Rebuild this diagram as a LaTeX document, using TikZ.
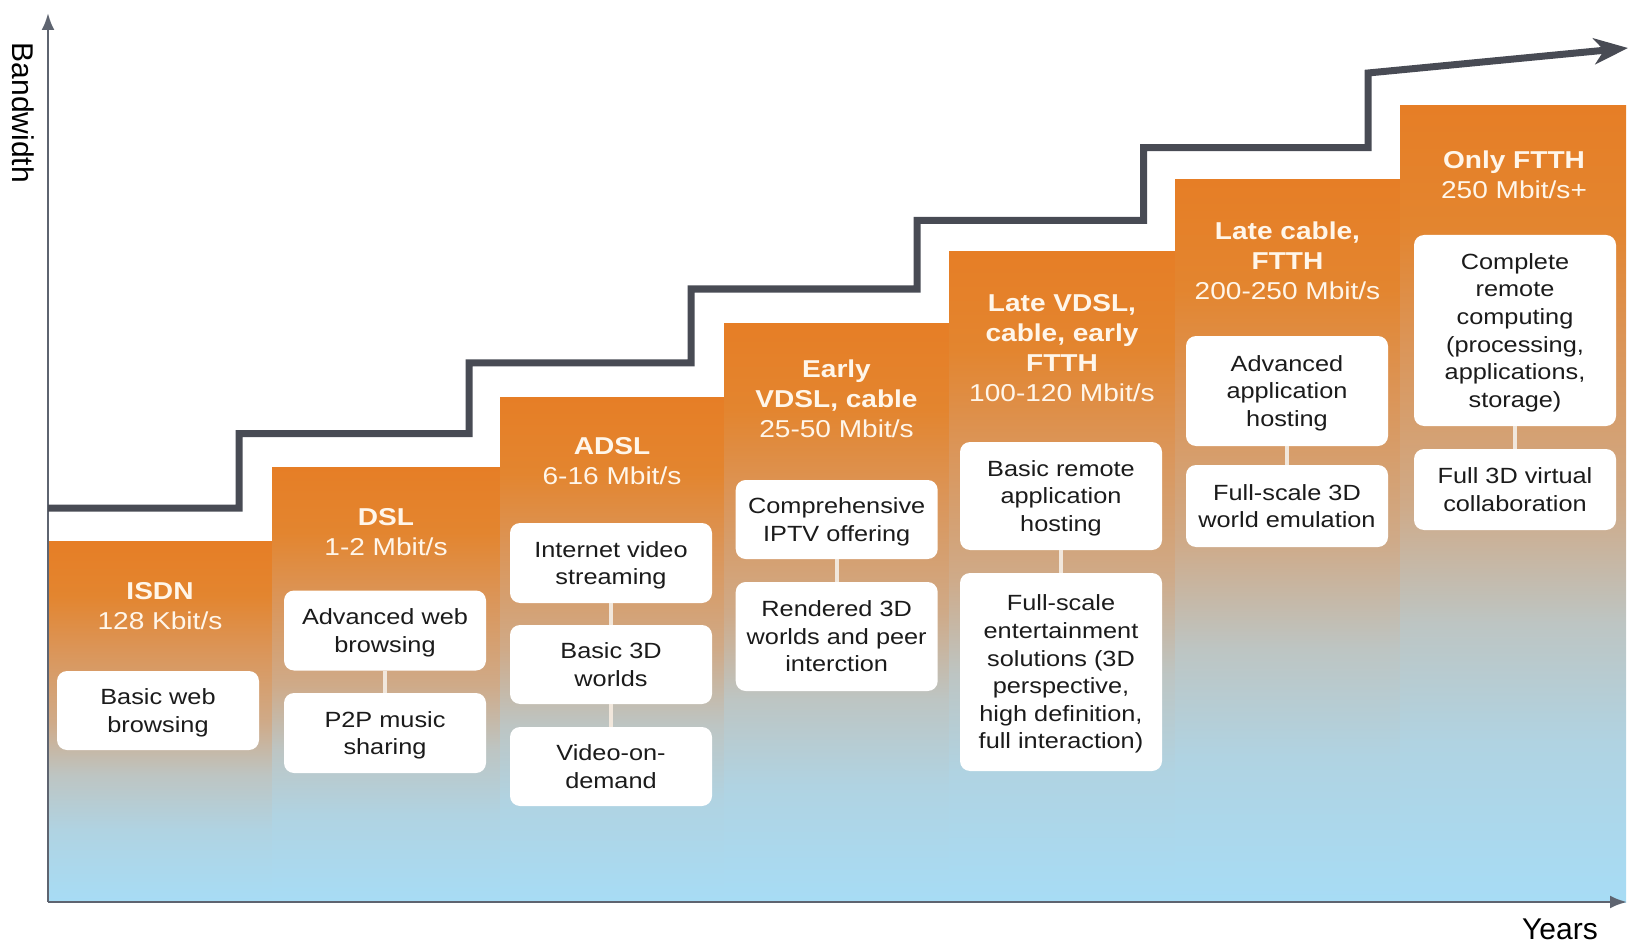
\documentclass[tikz,border=0pt]{standalone}
\usepackage{fontspec}
\setmainfont{Liberation Sans}[FakeStretch=1.15]
\newfontfamily\axisfont{Liberation Sans}
\usetikzlibrary{arrows.meta}
\definecolor{cblue}{HTML}{A7DCF5}
\definecolor{cblueb}{HTML}{B0D3E2}
\definecolor{cgrey}{HTML}{BDC5C3}
\definecolor{ctan}{HTML}{CFAA88}
\definecolor{cpeach}{HTML}{DB9558}
\definecolor{corangeb}{HTML}{E3852F}
\definecolor{corange}{HTML}{E67E26}
\definecolor{stepcol}{HTML}{484B54}
\definecolor{axiscol}{HTML}{5E6470}
\definecolor{titlecol}{HTML}{FFF6EA}
\definecolor{conncol}{HTML}{F1E7DC}
\definecolor{boxtext}{HTML}{1B1B1B}
\pgfdeclareverticalshading{colshade}{100bp}{color(0bp)=(cblue); color(25bp)=(cblue); color(35bp)=(cblueb); color(42.5bp)=(cgrey); color(50bp)=(ctan); color(60bp)=(cpeach); color(67.5bp)=(corangeb); color(75bp)=(corange); color(100bp)=(corange)}
\newcommand{\ms}{\rule[-0.25em]{0pt}{1.216em}}
\begin{document}
\begin{tikzpicture}[x=0.5pt,y=-0.5pt,
  title/.style={inner sep=0pt, align=center, text=titlecol, font=\fontsize{12.2}{15}\selectfont},
  box/.style={draw=none, fill=white, rounded corners=5pt, minimum width=101pt, inner sep=0pt, align=center, text=boxtext, font=\fontsize{11}{13.8}\selectfont},
  bh2/.style={minimum height=40pt},
  bh3/.style={minimum height=54.5pt},
  conn/.style={draw=conncol, line width=2pt},
  axis/.style={draw=axiscol, line width=1.3pt, -{Latex[length=8.5pt,width=6.5pt]}},
  stepline/.style={draw=stepcol, line width=3.5pt, miter limit=10, -{Stealth[length=17pt,width=13pt,inset=5pt]}},
  axlabel/.style={inner sep=0pt, font=\axisfont\fontsize{15}{18}\selectfont, text=black}]
\useasboundingbox (0,0) rectangle (1630,947);
% columns
\foreach \xl/\xr/\t in {48/272/541, 272/500/467, 500/724/397, 724/949/323, 949/1175/252, 1175/1400/180, 1400/1626/106}
  \shade[shading=colshade] (\xl,\t) rectangle (\xr,902);
% axes
\coordinate (O) at (48,902);
\coordinate (ytip) at (48,13);
\coordinate (xtip) at (1627,902);
\draw[axis] (O) -- (ytip);
\draw[axis] (O) -- (xtip);
\node[axlabel, rotate=-90] (bw) at (23,113) {Bandwidth};
\node[axlabel] (yrs) at (1560,929) {Years};
% step line
\coordinate (s0) at (48,508);
\coordinate (s1) at (239,508);
\coordinate (s2) at (239,433.5);
\coordinate (s3) at (469,433.5);
\coordinate (s4) at (469,362.8);
\coordinate (s5) at (691,362.8);
\coordinate (s6) at (691,289);
\coordinate (s7) at (917,289);
\coordinate (s8) at (917,220.4);
\coordinate (s9) at (1143.5,220.4);
\coordinate (s10) at (1143.5,147.6);
\coordinate (s11) at (1368,147.6);
\coordinate (s12) at (1368,73);
\coordinate (s13) at (1628,48);
\draw[stepline] (s0) -- (s1) -- (s2) -- (s3) -- (s4) -- (s5) -- (s6) -- (s7) -- (s8) -- (s9) -- (s10) -- (s11) -- (s12) -- (s13);
% titles
\node[title] (tisdn) at (160,606.2) {\textbf{\ms ISDN}\\\ms 128 Kbit/s};
\node[title] (tdsl) at (386,532.2) {\textbf{\ms DSL}\\\ms 1-2 Mbit/s};
\node[title] (tadsl) at (612,461.2) {\textbf{\ms ADSL}\\\ms 6-16 Mbit/s};
\node[title] (tevdsl) at (836.5,398.7) {\textbf{\ms Early}\\\textbf{\ms VDSL, cable}\\\ms 25-50 Mbit/s};
\node[title] (tlvdsl) at (1062,347.9) {\textbf{\ms Late VDSL,}\\\textbf{\ms cable, early}\\\textbf{\ms FTTH}\\\ms 100-120 Mbit/s};
\node[title] (tlcab) at (1287.5,260.8) {\textbf{\ms Late cable,}\\\textbf{\ms FTTH}\\\ms 200-250 Mbit/s};
\node[title] (tftth) at (1514,175.2) {\textbf{\ms Only FTTH}\\\ms 250 Mbit/s+};
% boxes
\node[box, bh2, minimum height=39.5pt] (a1) at (158,710.5) {\ms Basic web\\\ms browsing};
\node[box, bh2] (b1) at (385,630.5) {\ms Advanced web\\\ms browsing};
\node[box, bh2] (b2) at (385,733) {\ms P2P music\\\ms sharing};
\node[box, bh2] (c1) at (611,563) {\ms Internet video\\\ms streaming};
\node[box, bh2, minimum height=39.5pt] (c2) at (611,664.5) {\ms Basic 3D\\\ms worlds};
\node[box, bh2, minimum height=39.5pt] (c3) at (611,766.5) {\ms Video-on-\\\ms demand};
\node[box, bh2, minimum height=39.5pt] (d1) at (836.7,519.5) {\ms Comprehensive\\\ms IPTV offering};
\node[box, bh3] (d2) at (836.7,636.5) {\ms Rendered 3D\\\ms worlds and peer\\\ms interction};
\node[box, bh3, minimum height=54pt] (e1) at (1061,496) {\ms Basic remote\\\ms application\\\ms hosting};
\node[box, minimum height=99pt] (e2) at (1061,672) {\ms Full-scale\\\ms entertainment\\\ms solutions (3D\\\ms perspective,\\\ms high definition,\\\ms full interaction)};
\node[box, minimum height=55pt] (f1) at (1287,391) {\ms Advanced\\\ms application\\\ms hosting};
\node[box, minimum height=41pt] (f2) at (1287,506) {\ms Full-scale 3D\\\ms world emulation};
\node[box, minimum height=95.5pt] (g1) at (1515,330.5) {\ms Complete\\\ms remote\\\ms computing\\\ms (processing,\\\ms applications,\\\ms storage)};
\node[box, minimum height=40.5pt] (g2) at (1515,489.5) {\ms Full 3D virtual\\\ms collaboration};
% connectors
\draw[conn] (b1.south) -- (b2.north);
\draw[conn] (c1.south) -- (c2.north);
\draw[conn] (c2.south) -- (c3.north);
\draw[conn] (d1.south) -- (d2.north);
\draw[conn] (e1.south) -- (e2.north);
\draw[conn] (f1.south) -- (f2.north);
\draw[conn] (g1.south) -- (g2.north);
\end{tikzpicture}
\end{document}
